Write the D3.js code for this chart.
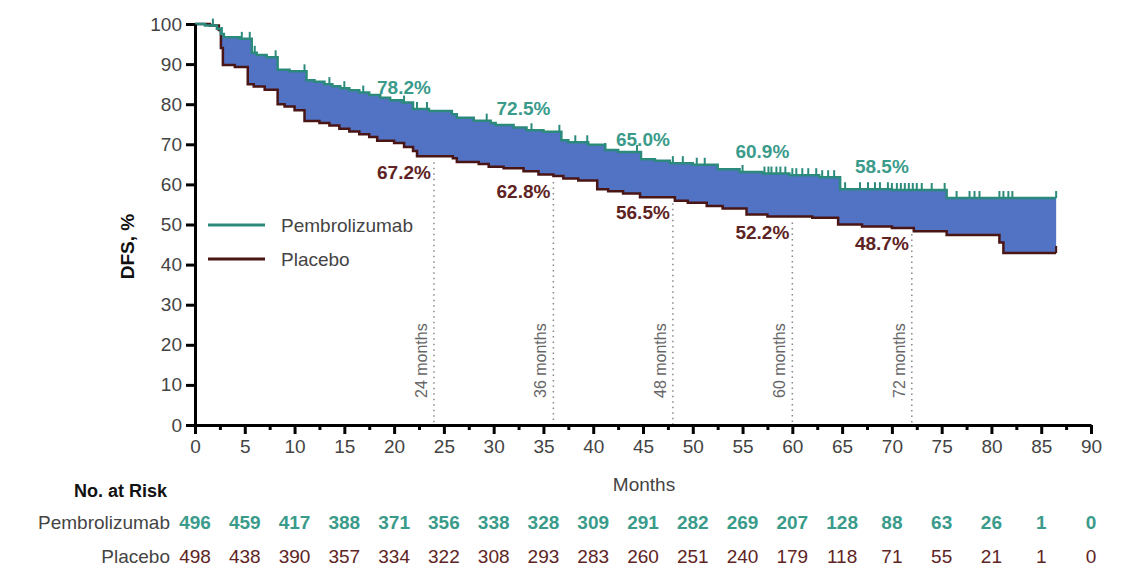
<!DOCTYPE html>
<html>
<head>
<meta charset="utf-8">
<script src="https://cdn.jsdelivr.net/npm/d3@7"></script>
<style>
  body { margin: 0; background: #fff; }
  text { font-family: "Liberation Sans", Arial, sans-serif; }
</style>
</head>
<body>
<svg id="chart" width="1146" height="580"></svg>
<script>
// step points (month, DFS %)
const pembroTimes = [0, 1.0, 2.2, 2.6, 2.9, 4.5, 5.7, 6.2, 7.2, 8.3, 9.5, 11.2, 12.0, 13.0, 13.8, 14.6, 15.5, 16.5, 17.5, 18.6, 19.6, 20.8, 21.9, 23.5, 25.8, 26.3, 28.0, 29.7, 30.2, 32.0, 33.3, 35.0, 36.8, 37.5, 39.5, 41.2, 42.5, 44.8, 46.2, 47.7, 50.0, 52.5, 54.7, 57.0, 59.7, 62.7, 64.8, 70.0, 75.5, 86.5];
const pembroSurv  = [100, 99.6, 98.8, 97.5, 96.7, 96.3, 92.8, 92.3, 91.7, 88.6, 88.2, 86.0, 85.6, 85.0, 84.5, 84.0, 83.5, 82.9, 82.3, 81.6, 81.0, 80.4, 78.8, 78.3, 77.5, 76.6, 75.9, 75.3, 74.8, 74.2, 73.5, 73.1, 71.0, 70.5, 69.9, 68.6, 68.1, 66.3, 65.9, 65.3, 64.9, 63.8, 63.1, 62.7, 62.3, 61.8, 58.8, 58.6, 56.6, 56.6];
const placeboTimes = [0, 1.5, 2.4, 2.6, 2.8, 4.0, 5.3, 5.9, 7.0, 8.3, 9.0, 10.0, 11.0, 12.5, 13.5, 14.5, 15.5, 16.5, 17.5, 18.3, 20.0, 21.0, 21.9, 22.3, 25.9, 26.3, 28.5, 29.5, 31.0, 33.0, 34.5, 36.0, 37.0, 38.5, 40.4, 41.5, 43.0, 44.7, 48.2, 49.5, 51.4, 53.0, 55.4, 57.5, 62.0, 64.6, 67.0, 70.0, 72.2, 75.5, 80.8, 81.2, 86.5];
const placeboSurv  = [100, 99.6, 98.5, 94.0, 89.8, 89.3, 85.0, 84.4, 83.6, 80.0, 79.4, 78.5, 75.8, 75.3, 74.7, 73.9, 73.2, 72.5, 71.8, 70.9, 70.3, 69.3, 68.3, 67.0, 66.5, 65.6, 65.1, 64.4, 64.0, 63.3, 62.5, 62.1, 61.5, 61.0, 58.8, 58.3, 57.7, 56.8, 55.9, 55.4, 54.6, 54.0, 52.5, 52.0, 51.7, 50.0, 49.5, 49.1, 48.3, 47.4, 45.5, 42.9, 42.9];

// censoring marks (months)
const pembroCensor = [1.8, 2.7, 4.7, 5.5, 6.0, 8.1, 11.0, 13.5, 15.0, 16.9, 21.0, 22.3, 23.3, 29.3, 33.8, 36.6, 38.2, 39.4, 41.2, 44.4, 48.0, 49.0, 50.4, 51.2, 55.0, 57.2, 57.6, 57.9, 58.4, 58.8, 59.3, 60.0, 60.4, 61.0, 61.6, 62.4, 63.0, 63.6, 64.2, 65.3, 66.8, 67.6, 68.3, 68.8, 69.6, 70.0, 70.5, 70.9, 71.3, 71.7, 72.1, 72.5, 73.0, 74.0, 75.3, 76.5, 77.8, 78.3, 78.8, 80.8, 81.2, 81.7, 82.1, 86.5];
const placeboCensor = [86.5];

// landmark estimates
const landmarkMonths = [24, 36, 48, 60, 72];
const pembroLandmark = ["78.2%", "72.5%", "65.0%", "60.9%", "58.5%"];
const placeboLandmark = ["67.2%", "62.8%", "56.5%", "52.2%", "48.7%"];

// number at risk
const riskMonths = [0, 5, 10, 15, 20, 25, 30, 35, 40, 45, 50, 55, 60, 65, 70, 75, 80, 85, 90];
const pembroRisk = [496, 459, 417, 388, 371, 356, 338, 328, 309, 291, 282, 269, 207, 128, 88, 63, 26, 1, 0];
const placeboRisk = [498, 438, 390, 357, 334, 322, 308, 293, 283, 260, 251, 240, 179, 118, 71, 55, 21, 1, 0];

const seriesNames = ["Pembrolizumab", "Placebo"];

const TEAL = "#2b8a7c", TEAL_TXT = "#3a9b8b", MAROON = "#4a1515", MAROON_TXT = "#5e2424", BLUE = "#5272c4", GREY = "#444";

const svg = d3.select("#chart");
const x = d3.scaleLinear().domain([0, 90]).range([195, 1091]);
const y = d3.scaleLinear().domain([0, 100]).range([425, 24]);

function stepAt(times, surv, t) {
    let i = d3.bisectRight(times, t) - 1;
    return surv[Math.max(0, i)];
}

// shaded band between the curves
let grid = Array.from(new Set(pembroTimes.concat(placeboTimes))).sort((a, b) => a - b);
svg.append("path")
    .datum(grid)
    .attr("fill", BLUE)
    .attr("d", d3.area()
        .curve(d3.curveStepAfter)
        .x(t => x(t))
        .y0(t => y(stepAt(placeboTimes, placeboSurv, t)))
        .y1(t => y(stepAt(pembroTimes, pembroSurv, t))));

// dotted landmark lines
landmarkMonths.forEach((m, i) => {
    svg.append("line")
        .attr("x1", x(m)).attr("x2", x(m))
        .attr("y1", y(stepAt(placeboTimes, placeboSurv, m)) + 6)
        .attr("y2", y(0))
        .attr("stroke", "#888")
        .attr("stroke-width", 1.5)
        .attr("stroke-dasharray", "1.5,4");
    svg.append("text")
        .attr("transform", `translate(${x(m) - 7},${y(0) - 27}) rotate(-90)`)
        .attr("text-anchor", "start")
        .attr("font-size", 16)
        .attr("fill", "#666")
        .text(`${m} months`);
});

// KM lines
const line = d3.line().curve(d3.curveStepAfter).x(d => x(d[0])).y(d => y(d[1]));
svg.append("path")
    .datum(placeboTimes.map((t, i) => [t, placeboSurv[i]]))
    .attr("fill", "none").attr("stroke", MAROON).attr("stroke-width", 2.5)
    .attr("d", line);
svg.append("path")
    .datum(pembroTimes.map((t, i) => [t, pembroSurv[i]]))
    .attr("fill", "none").attr("stroke", TEAL).attr("stroke-width", 2.5)
    .attr("d", line);

// censor ticks
svg.selectAll(".cp").data(pembroCensor).join("line")
    .attr("x1", d => x(d)).attr("x2", d => x(d))
    .attr("y1", d => y(stepAt(pembroTimes, pembroSurv, d)))
    .attr("y2", d => y(stepAt(pembroTimes, pembroSurv, d)) - 7)
    .attr("stroke", TEAL).attr("stroke-width", 2);
svg.selectAll(".cq").data(placeboCensor).join("line")
    .attr("x1", d => x(d)).attr("x2", d => x(d))
    .attr("y1", d => y(stepAt(placeboTimes, placeboSurv, d)))
    .attr("y2", d => y(stepAt(placeboTimes, placeboSurv, d)) - 7)
    .attr("stroke", MAROON).attr("stroke-width", 2);

// landmark labels
landmarkMonths.forEach((m, i) => {
    svg.append("text")
        .attr("x", x(m) - 3)
        .attr("y", y(stepAt(pembroTimes, pembroSurv, m) + 6) + 7)
        .attr("text-anchor", "end")
        .attr("font-size", 19).attr("font-weight", "bold")
        .attr("fill", TEAL_TXT)
        .text(pembroLandmark[i]);
    svg.append("text")
        .attr("x", x(m) - 3)
        .attr("y", y(stepAt(placeboTimes, placeboSurv, m) - 3.8) + 7)
        .attr("text-anchor", "end")
        .attr("font-size", 19).attr("font-weight", "bold")
        .attr("fill", MAROON_TXT)
        .text(placeboLandmark[i]);
});

// axes
const yAxis = d3.axisLeft(y).tickValues(d3.range(0, 101, 10)).tickSize(9).tickSizeOuter(0).tickPadding(4);
const gy = svg.append("g").attr("transform", `translate(${x(0)},0)`).call(yAxis);
gy.select(".domain").attr("stroke", "#000").attr("stroke-width", 3);
gy.selectAll(".tick line").attr("stroke", "#000").attr("stroke-width", 3);
gy.selectAll(".tick text").attr("font-size", 19).attr("fill", GREY).attr("font-family", "Liberation Sans, Arial, sans-serif");

const xAxis = d3.axisBottom(x).tickValues(d3.range(0, 91, 5)).tickSize(9).tickSizeOuter(0).tickPadding(6);
const gx = svg.append("g").attr("transform", `translate(0,${y(0)})`).call(xAxis);
gx.select(".domain").attr("stroke", "#000").attr("stroke-width", 3);
gx.selectAll(".tick line").attr("stroke", "#000").attr("stroke-width", 3);
gx.selectAll(".tick text").attr("font-size", 19).attr("fill", GREY).attr("font-family", "Liberation Sans, Arial, sans-serif");
const minor = d3.axisBottom(x).tickValues(d3.range(2.5, 90, 5)).tickSize(5).tickFormat("");
const gm = svg.append("g").attr("transform", `translate(0,${y(0)})`).call(minor);
gm.select(".domain").remove();
gm.selectAll(".tick line").attr("stroke", "#000").attr("stroke-width", 3);

// axis titles
svg.append("text")
    .attr("transform", `translate(134,${y(50) + 22}) rotate(-90)`)
    .attr("text-anchor", "middle")
    .attr("font-size", 19).attr("font-weight", "bold").attr("fill", "#111")
    .text("DFS, %");
svg.append("text")
    .attr("x", 644).attr("y", 491)
    .attr("text-anchor", "middle")
    .attr("font-size", 19).attr("fill", GREY)
    .text("Months");

// legend
[TEAL, MAROON].forEach((c, i) => {
    svg.append("line")
        .attr("x1", 208).attr("x2", 265)
        .attr("y1", 225 + i * 34).attr("y2", 225 + i * 34)
        .attr("stroke", c).attr("stroke-width", 3);
    svg.append("text")
        .attr("x", 281).attr("y", 225 + i * 34 + 7)
        .attr("font-size", 19).attr("fill", GREY)
        .text(seriesNames[i]);
});

// number at risk table
svg.append("text")
    .attr("x", 167).attr("y", 497)
    .attr("text-anchor", "end")
    .attr("font-size", 18).attr("font-weight", "bold").attr("fill", "#111")
    .text("No. at Risk");
[[pembroRisk, TEAL_TXT, 529], [placeboRisk, MAROON_TXT, 563]].forEach(([vals, c, yy], i) => {
    svg.append("text")
        .attr("x", 170).attr("y", yy)
        .attr("text-anchor", "end")
        .attr("font-size", 19).attr("fill", GREY)
        .text(seriesNames[i]);
    svg.selectAll(null).data(vals).join("text")
        .attr("x", (d, j) => x(riskMonths[j]))
        .attr("y", yy)
        .attr("text-anchor", "middle")
        .attr("font-size", 19).attr("font-weight", i === 0 ? "bold" : "normal")
        .attr("fill", c)
        .text(d => d);
});
</script>
</body>
</html>
